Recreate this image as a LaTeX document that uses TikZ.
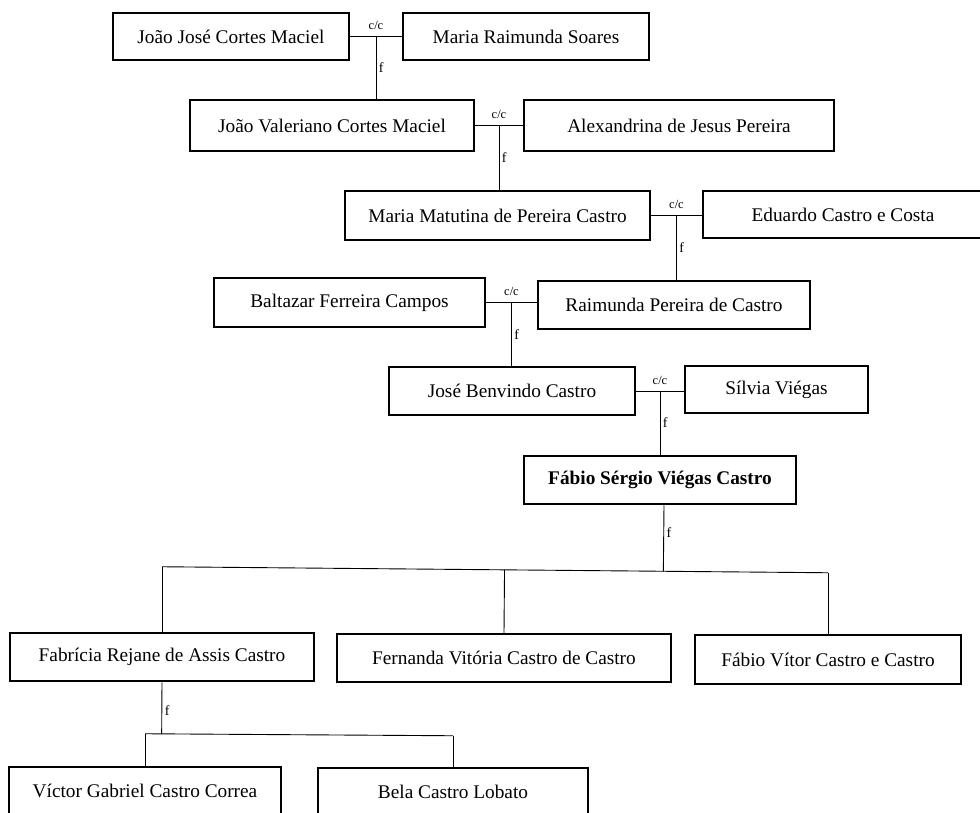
\documentclass[tikz,border=0pt]{standalone}
\usepackage{fontspec}
\setmainfont{Liberation Serif}
\usetikzlibrary{positioning, calc}

\tikzset{
  pessoa/.style={draw, line width=2.5pt, inner sep=0pt, font=\fontsize{19.3}{23}\selectfont},
  liga/.style={line width=0.9pt},
  casal/.style={font=\fontsize{12.5}{14}\selectfont, inner sep=1.5pt},
  filho/.style={font=\fontsize{14}{16}\selectfont, inner sep=1.5pt},
}

\begin{document}
\begin{tikzpicture}[x=1pt, y=-1pt]
  \useasboundingbox (0,0) rectangle (980,813);
  \clip (0,0) rectangle (980,813);
  \fill[white] (0,0) rectangle (980,813);

  % 人物方框
  \node[pessoa, minimum width=236pt, minimum height=47pt] (jjcm) at (231,36.5) {João José Cortes Maciel};
  \node[pessoa, minimum width=246pt, minimum height=47pt] (mrs) at (526,36.5) {Maria Raimunda Soares};
  \node[pessoa, minimum width=284pt, minimum height=51pt] (jvcm) at (332,125.5) {João Valeriano Cortes Maciel};
  \node[pessoa, minimum width=310pt, minimum height=51pt] (ajp) at (679,125.5) {Alexandrina de Jesus Pereira};
  \node[pessoa, minimum width=305pt, minimum height=49pt] (mmpc) at (497.5,215.5) {Maria Matutina de Pereira Castro};
  \node[pessoa, minimum width=280pt, minimum height=47pt] (ecc) at (843,214.5) {Eduardo Castro e Costa};
  \node[pessoa, minimum width=271pt, minimum height=49pt] (bfc) at (349.5,302.5) {Baltazar Ferreira Campos};
  \node[pessoa, minimum width=272pt, minimum height=48pt] (rpc) at (674,305) {Raimunda Pereira de Castro};
  \node[pessoa, minimum width=246pt, minimum height=48pt] (jbc) at (512,391) {José Benvindo Castro};
  \node[pessoa, minimum width=183pt, minimum height=47pt] (sv) at (776.5,389.5) {Sílvia Viégas};
  \node[pessoa, minimum width=272pt, minimum height=48pt, font=\fontsize{19.3}{23}\selectfont\bfseries] (fsvc) at (660,480) {Fábio Sérgio Viégas Castro};
  \node[pessoa, minimum width=304pt, minimum height=48pt] (frac) at (162,657) {Fabrícia Rejane de Assis Castro};
  \node[pessoa, minimum width=334pt, minimum height=48pt] (fvcd) at (504,658) {Fernanda Vitória Castro de Castro};
  \node[pessoa, minimum width=266pt, minimum height=49pt] (fvcc) at (828,659.5) {Fábio Vítor Castro e Castro};
  \node[pessoa, minimum width=272pt, minimum height=48pt] (vgcc) at (145,791) {Víctor Gabriel Castro Correa};
  \node[pessoa, minimum width=270pt, minimum height=48pt] (bclo) at (453,792) {Bela Castro Lobato};

  % 夫妻连线与子女连线
  \foreach \a/\b/\c [count=\i] in {jjcm/mrs/jvcm, jvcm/ajp/mmpc, mmpc/ecc/rpc, bfc/rpc/jbc, jbc/sv/fsvc} {
    \draw[liga] (\a.east) -- (\a.east -| \b.west);
    \coordinate (cc\i) at ($(\a.east)!.5!(\a.east -| \b.west)$);
    \node[casal, above=5pt] at (cc\i) {c/c};
    \draw[liga] (cc\i) -- (cc\i |- \c.north) node[pos=.5, right=1pt, filho] {f};
  }

  % 子女横线
  \coordinate (barE) at ($(frac.north)+(0,-65)$);
  \coordinate (barD) at ($(fvcc.north)+(0,-61)$);
  \draw[liga] (barE) -- (barD);
  \draw[liga] (barE) -- (frac.north);
  \draw[liga] (barD) -- (fvcc.north);
  \draw[liga] ($(barE)!(fvcd.north)!(barD)$) -- (fvcd.north);
  \draw[liga] ($(fsvc.south)+(4,0)$) -- ($(barE)!($(fsvc.south)+(4,0)$)!(barD)$) node[pos=.42, right=1pt, filho] {f};

  % 孙辈
  \coordinate (netoE) at ($(vgcc.north)+(0,-32)$);
  \coordinate (netoD) at ($(bclo.north)+(0,-31)$);
  \draw[liga] (netoE) -- (netoD);
  \draw[liga] (netoE) -- (vgcc.north);
  \draw[liga] (netoD) -- (bclo.north);
  \draw[liga] (frac.south) -- ($(netoE)!(frac.south)!(netoD)$) node[pos=.55, right=1pt, filho] {f};
\end{tikzpicture}
\end{document}
